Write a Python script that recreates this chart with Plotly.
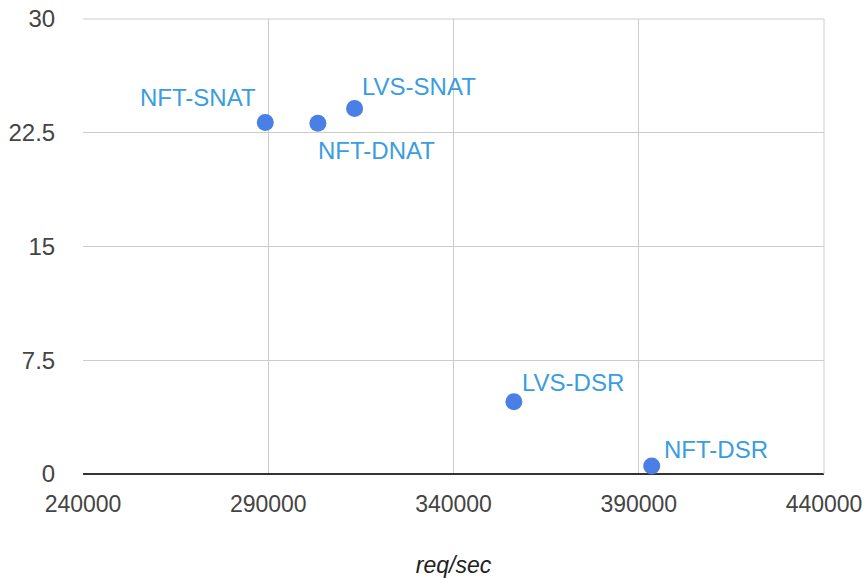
import plotly.graph_objects as go

labels = ["NFT-SNAT", "NFT-DNAT", "LVS-SNAT", "LVS-DSR", "NFT-DSR"]
req_per_sec = [289200, 303400, 313300, 356300, 393500]
values = [23.17, 23.12, 24.1, 4.77, 0.53]

# label placement (style): anchor side and pixel offsets from each point
label_anchor = ["right", "left", "left", "left", "left"]
label_dx = [-8, -1, 6, 7, 11]
label_dy = [25, -27, 22, 19, 16]

x_ticks = [240000, 290000, 340000, 390000, 440000]
x_ticktext = ["240000", "290000", "340000", "390000", "440000"]
y_ticks = [0, 7.5, 15, 22.5, 30]
y_ticktext = ["0", "7.5", "15", "22.5", "30"]

fig = go.Figure()
fig.add_trace(go.Scatter(
    x=req_per_sec, y=values, mode="markers",
    marker=dict(size=17, color="#4a7fe6"),
    showlegend=False, cliponaxis=False, hoverinfo="skip",
))

for lab, xv, yv, anc, dx, dy in zip(labels, req_per_sec, values, label_anchor, label_dx, label_dy):
    fig.add_annotation(
        x=xv, y=yv, text=lab, showarrow=False,
        xanchor=anc, yanchor="middle", xshift=dx, yshift=dy,
        font=dict(family="Liberation Sans, Arial", size=24, color="#3a9de0"),
        borderpad=0,
    )

fig.update_layout(
    width=868, height=578,
    margin=dict(l=83, r=44, t=19, b=104, autoexpand=False),
    plot_bgcolor="white", paper_bgcolor="white",
    font=dict(family="Liberation Sans, Arial", size=23, color="#444444"),
    xaxis=dict(
        range=[240000, 440000], tickvals=x_ticks, ticktext=x_ticktext,
        automargin=False, ticklabeloverflow="allow",
        showgrid=True, gridcolor="#cccccc", gridwidth=1, zeroline=False,
        ticks="outside", ticklen=9, tickcolor="rgba(0,0,0,0)",
        title=dict(text="<i>req/sec</i>", font=dict(size=23, color="#222222"), standoff=43),
        showline=False,
    ),
    yaxis=dict(
        range=[0, 30], tickvals=y_ticks, ticktext=y_ticktext,
        automargin=False, ticklabeloverflow="allow",
        tickfont=dict(size=24),
        showgrid=True, gridcolor="#cccccc", gridwidth=1,
        zeroline=True, zerolinecolor="#333333", zerolinewidth=2,
        ticks="outside", ticklen=22, tickcolor="rgba(0,0,0,0)",
        showline=False,
    ),
)
fig.add_shape(type="line", xref="paper", yref="paper", x0=1, x1=1, y0=0, y1=1,
              line=dict(color="#cccccc", width=1))
fig.add_shape(type="line", xref="paper", yref="paper", x0=0, x1=1, y0=1, y1=1,
              line=dict(color="#cccccc", width=1))

fig.write_html("out.html", config={"responsive": False, "displayModeBar": False},
               include_plotlyjs=True, full_html=True,
               post_script="document.body.style.margin='0';")
